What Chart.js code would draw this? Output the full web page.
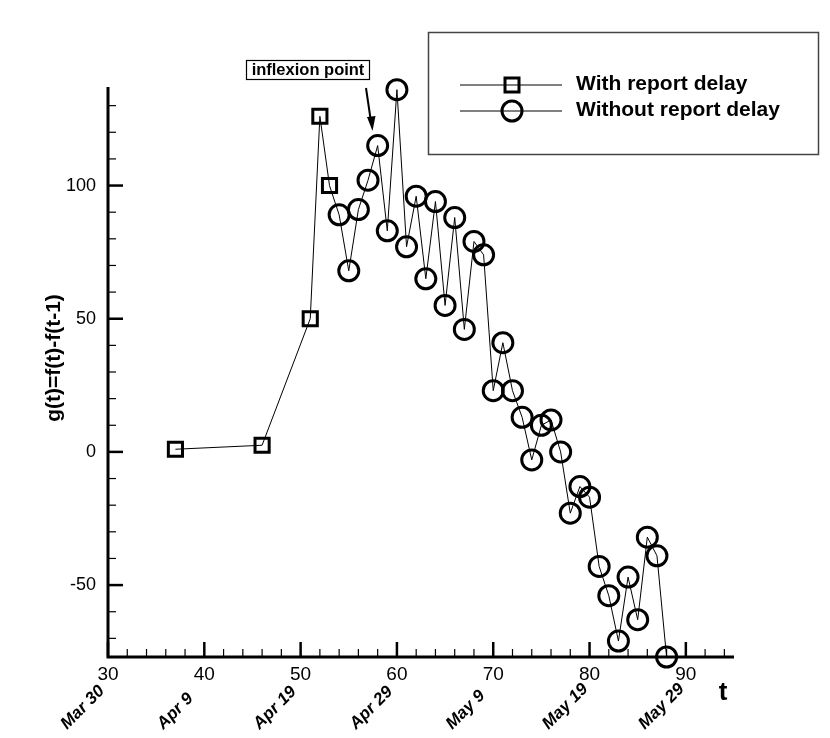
<!DOCTYPE html>
<html><head><meta charset="utf-8">
<script src="https://cdn.jsdelivr.net/npm/chart.js@4"></script>
<style>html,body{margin:0;padding:0;background:#fff}#wrap{width:830px;height:738px}</style>
</head><body><div id="wrap"><canvas id="c" width="830" height="738"></canvas></div>
<script>
const delayDays = [37, 46, 51, 52, 53];
const delayValues = [1, 2.5, 50, 126, 100];
const noDelayDays = [53, 54, 55, 56, 57, 58, 59, 60, 61, 62, 63, 64, 65, 66, 67, 68, 69, 70, 71, 72, 73, 74, 75, 76, 77, 78, 79, 80, 81, 82, 83, 84, 85, 86, 87, 88];
const noDelayValues = [100, 89, 68, 91, 102, 115, 83, 136, 77, 96, 65, 94, 55, 88, 46, 79, 74, 23, 41, 23, 13, -3, 10, 12, 0, -23, -13, -17, -43, -54, -71, -47, -63, -32, -39, -77];
const xTickValues = [30, 40, 50, 60, 70, 80, 90];
const dateLabels = ["Mar 30", "Apr 9", "Apr 19", "Apr 29", "May 9", "May 19", "May 29"];
const yTickValues = [-50, 0, 50, 100];
const seriesNames = ["With report delay", "Without report delay"];
const yTitle = "g(t)=f(t)-f(t-1)";
const xTitle = "t";
const annotationText = "inflexion point";

const FONT = "'Liberation Sans', Arial, sans-serif";

const decor = {
  id: 'decor',
  afterDraw(chart) {
    const ctx = chart.ctx, xs = chart.scales.x, ys = chart.scales.y, a = chart.chartArea;
    ctx.save();
    ctx.strokeStyle = '#000';
    ctx.lineCap = 'butt';
    // axes
    ctx.lineWidth = 3;
    ctx.beginPath();
    ctx.moveTo(a.left, a.top); ctx.lineTo(a.left, a.bottom + 1.5);
    ctx.moveTo(a.left - 1.5, a.bottom); ctx.lineTo(a.right, a.bottom);
    ctx.stroke();
    // x ticks
    for (let v = 30; v <= 94; v += 2) {
      const px = xs.getPixelForValue(v);
      const major = v % 10 === 0;
      ctx.lineWidth = major ? 2.5 : 1.2;
      ctx.beginPath();
      ctx.moveTo(px, a.bottom); ctx.lineTo(px, a.bottom - (major ? 15 : 8));
      ctx.stroke();
    }
    // y ticks
    for (let v = -70; v <= 130; v += 10) {
      const py = ys.getPixelForValue(v);
      const major = v % 50 === 0;
      ctx.lineWidth = major ? 2.5 : 1.2;
      ctx.beginPath();
      ctx.moveTo(a.left, py); ctx.lineTo(a.left + (major ? 15 : 8), py);
      ctx.stroke();
    }
    ctx.fillStyle = '#000';
    // date labels
    ctx.font = "bold italic 17px " + FONT;
    ctx.textAlign = 'left';
    ctx.textBaseline = 'alphabetic';
    xTickValues.forEach((v, i) => {
      const px = xs.getPixelForValue(v);
      ctx.save();
      ctx.translate(px - 41, 730);
      ctx.rotate(-Math.PI / 4);
      ctx.fillText(dateLabels[i], 0, 0);
      ctx.restore();
    });
    // t label
    ctx.font = "bold 26px " + FONT;
    ctx.textAlign = 'center';
    ctx.textBaseline = 'middle';
    ctx.fillText(xTitle, 723, 693);
    // y title
    ctx.save();
    ctx.translate(54, 358);
    ctx.rotate(-Math.PI / 2);
    ctx.font = "bold 21px " + FONT;
    ctx.fillText(yTitle, 0, 0);
    ctx.restore();
    // annotation
    ctx.lineWidth = 1.2;
    ctx.strokeRect(246.5, 60.5, 123, 19);
    let fs = 17;
    ctx.font = "bold " + fs + "px " + FONT;
    while (ctx.measureText(annotationText).width > 116 && fs > 10) {
      fs -= 0.5;
      ctx.font = "bold " + fs + "px " + FONT;
    }
    ctx.fillText(annotationText, 308, 70.5);
    ctx.lineWidth = 2;
    ctx.beginPath();
    ctx.moveTo(366, 88); ctx.lineTo(371, 122);
    ctx.stroke();
    ctx.beginPath();
    ctx.moveTo(372.5, 131); ctx.lineTo(367, 117); ctx.lineTo(375.5, 116); ctx.closePath();
    ctx.fill();
    // legend
    ctx.strokeStyle = '#444';
    ctx.lineWidth = 1.5;
    ctx.strokeRect(428.5, 32.5, 390, 122);
    ctx.strokeStyle = '#000';
    ctx.lineWidth = 1;
    ctx.beginPath();
    ctx.moveTo(460, 85); ctx.lineTo(562, 85);
    ctx.moveTo(460, 111); ctx.lineTo(562, 111);
    ctx.stroke();
    ctx.lineWidth = 3;
    ctx.strokeRect(505, 78, 14, 14);
    ctx.beginPath();
    ctx.arc(512, 111, 10, 0, Math.PI * 2);
    ctx.stroke();
    ctx.font = "bold 21px " + FONT;
    ctx.textAlign = 'left';
    ctx.fillText(seriesNames[0], 576, 84);
    ctx.fillText(seriesNames[1], 576, 110);
    ctx.restore();
  }
};

new Chart(document.getElementById('c'), {
  type: 'scatter',
  data: {
    datasets: [
      {
        label: seriesNames[0],
        data: delayDays.map((d, i) => ({ x: d, y: delayValues[i] })),
        showLine: true,
        borderColor: '#000',
        borderWidth: 1,
        pointStyle: 'rect',
        pointRadius: 10,
        pointBorderWidth: 3,
        pointBorderColor: '#000',
        pointBackgroundColor: 'rgba(0,0,0,0)',
        clip: false
      },
      {
        label: seriesNames[1],
        data: noDelayDays.map((d, i) => ({ x: d, y: noDelayValues[i] })),
        showLine: true,
        borderColor: '#000',
        borderWidth: 1,
        pointStyle: 'circle',
        pointRadius: noDelayDays.map((d, i) => i === 0 ? 0 : 10),
        pointBorderWidth: 3,
        pointBorderColor: '#000',
        pointBackgroundColor: 'rgba(0,0,0,0)',
        clip: false
      }
    ]
  },
  options: {
    responsive: false,
    animation: false,
    devicePixelRatio: 1,
    layout: { padding: { left: 0, top: 87, right: 96, bottom: 0 } },
    plugins: { legend: { display: false }, tooltip: { enabled: false } },
    scales: {
      x: {
        type: 'linear', min: 30, max: 95,
        afterBuildTicks: s => { s.ticks = xTickValues.map(v => ({ value: v })); },
        afterFit: s => { s.height = 81; },
        grid: { display: false, drawTicks: false },
        border: { display: false },
        ticks: { color: '#000', font: { family: FONT, size: 19 }, padding: 6, maxRotation: 0 }
      },
      y: {
        type: 'linear', min: -77, max: 137,
        afterBuildTicks: s => { s.ticks = yTickValues.map(v => ({ value: v })); },
        afterFit: s => { s.width = 108; },
        grid: { display: false, drawTicks: false },
        border: { display: false },
        ticks: { color: '#000', font: { family: FONT, size: 18 }, padding: 12 }
      }
    }
  },
  plugins: [decor]
});
</script>
</body></html>
